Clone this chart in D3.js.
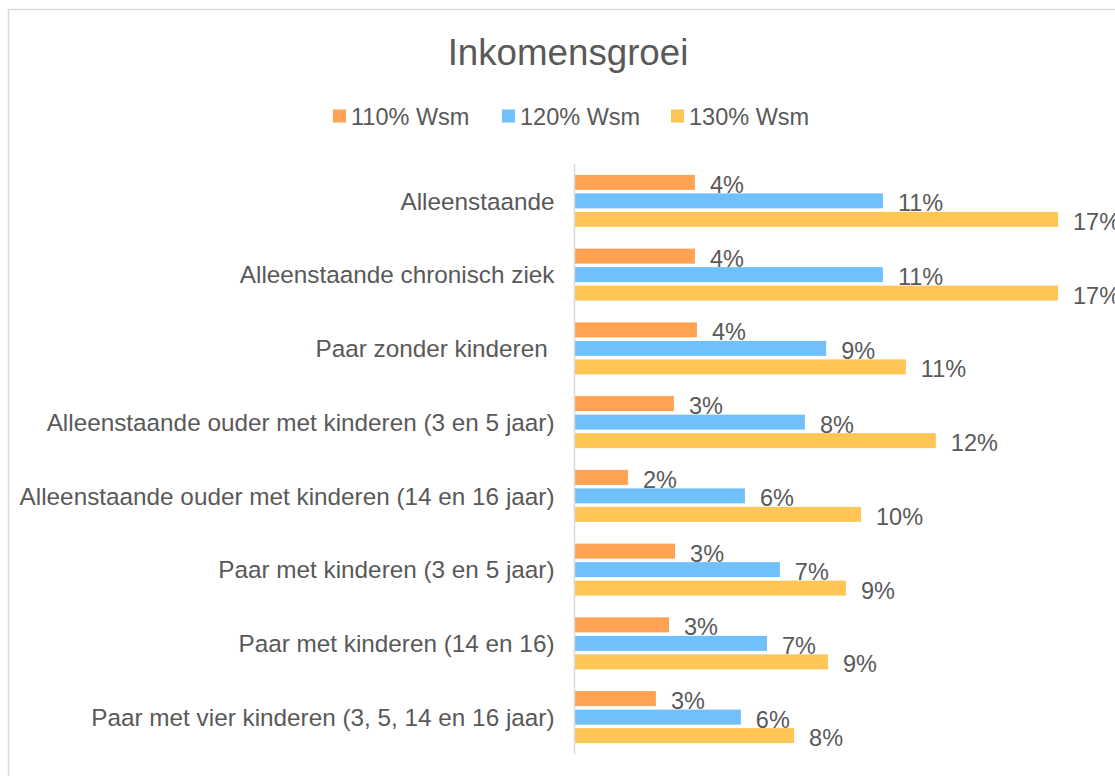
<!DOCTYPE html>
<html>
<head>
<meta charset="utf-8">
<script src="https://cdn.jsdelivr.net/npm/d3@7"></script>
<style>
  body { margin: 0; background: #fff; }
  text { font-family: "Liberation Sans", Arial, sans-serif; fill: #595959; }
</style>
</head>
<body>
<div id="chart"></div>
<script>
// categories (top to bottom)
var categories = [
  "Alleenstaande",
  "Alleenstaande chronisch ziek",
  "Paar zonder kinderen ",
  "Alleenstaande ouder met kinderen (3 en 5 jaar)",
  "Alleenstaande ouder met kinderen (14 en 16 jaar)",
  "Paar met kinderen (3 en 5 jaar)",
  "Paar met kinderen (14 en 16)",
  "Paar met vier kinderen (3, 5, 14 en 16 jaar)"
];

// series names
var seriesNames = ["110% Wsm", "120% Wsm", "130% Wsm"];

// series values, in percent
var wsm110 = [4.12, 4.12, 4.19, 3.40, 1.82, 3.44, 3.23, 2.78];
var wsm120 = [10.58, 10.58, 8.63, 7.90, 5.84, 7.04, 6.60, 5.70];
var wsm130 = [16.6, 16.6, 11.37, 12.40, 9.83, 9.31, 8.69, 7.53];

var colors = ["#ffa352", "#70c1fb", "#ffc555"];

var width = 1115, height = 776;

var svg = d3.select("#chart").append("svg")
    .attr("width", width)
    .attr("height", height);

// chart border (runs off the page to the right and bottom)
svg.append("rect")
    .attr("x", 8.5).attr("y", 9.5)
    .attr("width", 1300).attr("height", 900)
    .attr("fill", "none")
    .attr("stroke", "#d9d9d9")
    .attr("stroke-width", 1.5);

// build rows from the arrays
var series = [wsm110, wsm120, wsm130];
var rows = categories.map(function(c, i) {
  return { cat: c, values: series.map(function(s, j) { return { key: seriesNames[j], value: s[i] }; }) };
});

// scales
var x = d3.scaleLinear().domain([0, 20]).range([575, 575 + 582]);
var y0 = d3.scaleBand().domain(categories).range([164, 754])
    .paddingInner(0.295).paddingOuter(0.1475);
var y1 = d3.scaleBand().domain(seriesNames).range([0, y0.bandwidth()])
    .paddingInner(0.19);

// title
svg.append("text")
    .attr("x", 568).attr("y", 65)
    .attr("text-anchor", "middle")
    .style("font-size", "36.7px")
    .text("Inkomensgroei");

// legend
var legend = svg.append("g");
var item = legend.selectAll("g").data(seriesNames).enter().append("g")
    .attr("transform", function(d, i) { return "translate(" + (333 + i * 169) + ",0)"; });
item.append("rect")
    .attr("x", 0).attr("y", 109.5)
    .attr("width", 13).attr("height", 13)
    .attr("fill", function(d, i) { return colors[i]; });
item.append("text")
    .attr("x", 18).attr("y", 124.5)
    .style("font-size", "23.5px")
    .text(function(d) { return d; });

// groups
var group = svg.selectAll(".grp").data(rows).enter().append("g")
    .attr("class", "grp")
    .attr("transform", function(d) { return "translate(0," + y0(d.cat) + ")"; });

group.selectAll("rect").data(function(d) { return d.values; }).enter().append("rect")
    .attr("x", x(0))
    .attr("y", function(d) { return y1(d.key); })
    .attr("width", function(d) { return x(d.value) - x(0); })
    .attr("height", y1.bandwidth())
    .attr("fill", function(d, i) { return colors[i]; });

// data labels
group.selectAll(".lbl").data(function(d) { return d.values; }).enter().append("text")
    .attr("class", "lbl")
    .attr("x", function(d) { return x(d.value) + 15; })
    .attr("y", function(d) { return y1(d.key) + y1.bandwidth() + 3; })
    .style("font-size", "23.5px")
    .text(function(d) { return Math.round(d.value) + "%"; });

// category axis
var axis = svg.append("g")
    .attr("transform", "translate(" + (x(0) - 0.5) + ",0)")
    .call(d3.axisLeft(y0).tickSize(0).tickPadding(20));
axis.select(".domain").attr("stroke", "#d9d9d9").attr("stroke-width", 1.5)
    .attr("d", "M0," + 164 + "V" + 754);
axis.selectAll(".tick text")
    .style("font-size", "24.3px")
    .style("font-family", "Liberation Sans, Arial, sans-serif")
    .style("white-space", "pre")
    .attr("fill", "#595959")
    .attr("dy", "0.36em");
</script>
</body>
</html>
